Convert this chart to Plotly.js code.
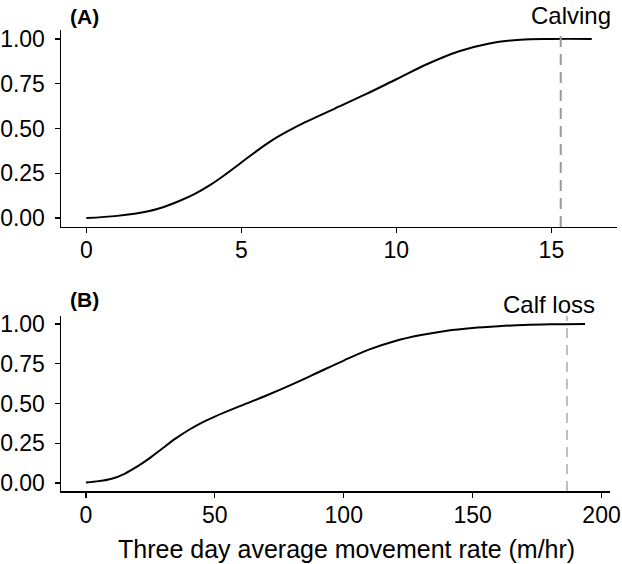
<!DOCTYPE html>
<html>
<head>
<meta charset="utf-8">
<script src="https://cdn.plot.ly/plotly-3.0.1.min.js"></script>
<style>html,body{margin:0;padding:0;background:#fff;}#chart{width:622px;height:564px;}</style>
</head>
<body>
<div id="chart"></div>
<script>
// Panel A: calving
const rateA = [0, 1, 2, 2.5, 3, 3.5, 4, 4.5, 5, 5.5, 6, 6.5, 7, 7.5, 8, 9, 10, 11, 12, 13, 14, 15, 16.3];
const cumA  = [0, 0.012, 0.038, 0.062, 0.095, 0.135, 0.185, 0.245, 0.31, 0.375, 0.435, 0.485, 0.53, 0.57, 0.61, 0.69, 0.775, 0.86, 0.93, 0.975, 0.996, 1.0, 1.0];
const calvingX = 15.3;
// Panel B: calf loss
const rateB = [0, 5, 10, 15, 20, 25, 30, 35, 40, 45, 50, 60, 70, 80, 90, 100, 110, 120, 130, 140, 150, 160, 170, 180, 193.6];
const cumB  = [0.004, 0.012, 0.027, 0.058, 0.105, 0.16, 0.222, 0.282, 0.335, 0.38, 0.418, 0.485, 0.55, 0.62, 0.695, 0.77, 0.84, 0.893, 0.93, 0.958, 0.975, 0.986, 0.994, 0.998, 1.0];
const lossX = 186.6;

const yTicks = [0, 0.25, 0.5, 0.75, 1];
const xTicksA = [0, 5, 10, 15];
const xTicksB = [0, 50, 100, 150, 200];
const xTitle = "Three day average movement rate (m/hr)";

const FONT = '"Liberation Sans", Arial, Helvetica, sans-serif';

function pad(arr, f) {
  const mn = Math.min(...arr), mx = Math.max(...arr);
  const d = (mx - mn) * f;
  return [mn - d, mx + d];
}

const traces = [
  {x: rateA, y: cumA, xaxis: 'x', yaxis: 'y', mode: 'lines',
   line: {color: '#000', width: 2, shape: 'spline', smoothing: 1}, hoverinfo: 'skip'},
  {x: rateB, y: cumB, xaxis: 'x2', yaxis: 'y2', mode: 'lines',
   line: {color: '#000', width: 2, shape: 'spline', smoothing: 1}, hoverinfo: 'skip'}
];

const axBase = {
  showgrid: false, zeroline: false, showline: true, linecolor: '#000', linewidth: 1.5,
  ticks: 'outside', ticklen: 5, tickwidth: 1.2, tickcolor: '#000',
  tickfont: {family: FONT, size: 23, color: '#000'}
};

const layout = {
  width: 622, height: 564,
  margin: {l: 61, r: 5, t: 30, b: 73},
  paper_bgcolor: '#fff', plot_bgcolor: '#fff',
  showlegend: false,
  font: {family: FONT, color: '#000'},
  xaxis: Object.assign({}, axBase, {domain: [0, 1], anchor: 'y', range: pad(rateA, 0.05),
    tickvals: xTicksA, ticktext: xTicksA.map(String), ticklabelstandoff: -3}),
  yaxis: Object.assign({}, axBase, {domain: [0.5727, 1], anchor: 'x', range: [-0.05, 1.05],
    tickvals: yTicks, ticktext: yTicks.map(v => v.toFixed(2)), ticklabelstandoff: 5}),
  xaxis2: Object.assign({}, axBase, {domain: [0, 0.9874], anchor: 'y2', range: pad(rateB, 0.05),
    tickvals: xTicksB, ticktext: xTicksB.map(String), ticklabelstandoff: -2}),
  yaxis2: Object.assign({}, axBase, {domain: [0, 0.3796], anchor: 'x2', range: [-0.05, 1.05],
    tickvals: yTicks, ticktext: yTicks.map(v => v.toFixed(2)), ticklabelstandoff: 5}),
  shapes: [
    {type: 'line', xref: 'x', yref: 'y domain', x0: calvingX, x1: calvingX, y0: 0, y1: 1,
     line: {color: '#999', width: 2, dash: '11px,7px'}},
    {type: 'line', xref: 'x2', yref: 'y2 domain', x0: lossX, x1: lossX, y0: 0, y1: 1,
     line: {color: '#aaa', width: 1.5, dash: '10px,7px'}}
  ],
  annotations: [
    {text: '<b>(A)</b>', xref: 'paper', yref: 'paper', x: 0.0126, y: 1.03, xanchor: 'left', yanchor: 'middle',
     showarrow: false, font: {family: FONT, size: 21, color: '#000'}},
    {text: '<b>(B)</b>', xref: 'paper', yref: 'paper', x: 0.0126, y: 0.416, xanchor: 'left', yanchor: 'middle',
     showarrow: false, font: {family: FONT, size: 21, color: '#000'}},
    {text: 'Calving', xref: 'paper', yref: 'paper', x: 0.9164, y: 1.031, xanchor: 'center', yanchor: 'middle',
     showarrow: false, font: {family: FONT, size: 24, color: '#000'}},
    {text: 'Calf loss', xref: 'paper', yref: 'paper', x: 0.8768, y: 0.4056, xanchor: 'center', yanchor: 'middle',
     showarrow: false, font: {family: FONT, size: 24, color: '#000'}},
    {text: xTitle, xref: 'paper', yref: 'paper', x: 0.5135, y: -0.1258, xanchor: 'center', yanchor: 'middle',
     showarrow: false, font: {family: FONT, size: 25, color: '#000'}}
  ]
};

Plotly.newPlot('chart', traces, layout, {displayModeBar: false, staticPlot: true});
</script>
</body>
</html>
